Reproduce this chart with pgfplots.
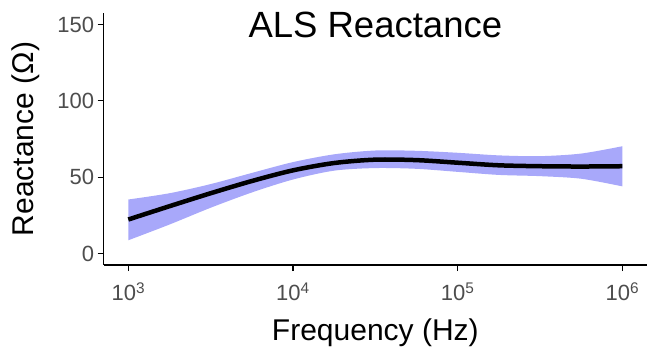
\documentclass[border=0pt]{standalone}
\usepackage{fontspec}
\setmainfont{Liberation Sans}
\usepackage{pgfplots}
\pgfplotsset{compat=1.18}
\usepgfplotslibrary{fillbetween}
\definecolor{band}{RGB}{168,168,250}
\definecolor{tickgrey}{RGB}{77,77,77}
\begin{document}
\begin{tikzpicture}
\begin{axis}[
  at={(103.6pt,83pt)}, anchor=south west,
  width=543.5pt, height=251.9pt, scale only axis,
  xmode=log, xmin=707.9, xmax=1412538, ymin=-7.5, ymax=157.5,
  axis x line=bottom, axis y line=left,
  axis line style={-, line width=1.3pt, black},
  xtick={1000,10000,100000,1000000}, ytick={0,50,100,150},
  xticklabels={{10\textsuperscript{3}},{10\textsuperscript{4}},{10\textsuperscript{5}},{10\textsuperscript{6}}},
  yticklabels={0,50,100,150},
  xminorticks=false, yminorticks=false,
  tick align=outside, major tick length=6pt,
  tick style={line width=1.1pt, black},
  tick label style={font=\fontsize{22}{22}\selectfont, text=tickgrey},
  xticklabel style={yshift=-8pt},
  xlabel={Frequency (Hz)}, ylabel={Reactance (Ω)},
  label style={font=\fontsize{30}{30}\selectfont},
  xlabel style={at={(axis description cs:0.5,-0.298)}, anchor=base},
  ylabel style={at={(axis description cs:-0.1293,0.5)}, anchor=base},
  title={ALS Reactance},
  title style={font=\fontsize{36.5}{36.5}\selectfont, at={(axis description cs:0.5,0.879)}, anchor=base},
]
\addplot[name path=hi, draw=none, smooth, forget plot] coordinates {
(1000,35.4) (1778,39.5) (3162,45.5) (5623,52.8) (10000,59.9) (17783,65) (31623,67.5) (56234,67.3) (100000,66) (177828,64.3) (316228,63.8) (562341,65.5) (1000000,70.3)};
\addplot[name path=lo, draw=none, smooth, forget plot] coordinates {
(1000,8.7) (1778,19) (3162,30) (5623,40) (10000,48.5) (17783,54.3) (31623,56) (56234,55.5) (100000,53.5) (177828,51.5) (316228,50.7) (562341,49) (1000000,44)};
\addplot[band, draw=none] fill between[of=hi and lo];
\addplot[black, line width=4.5pt, smooth] coordinates {
(1000,22.3) (1778,31) (3162,39.5) (5623,47.5) (10000,54.5) (17783,59.3) (31623,61.5) (56234,61.2) (100000,59.5) (177828,57.8) (316228,57.2) (562341,57) (1000000,57.2)};
\end{axis}
\path (0,0) rectangle (650pt,348pt);
\end{tikzpicture}
\end{document}
